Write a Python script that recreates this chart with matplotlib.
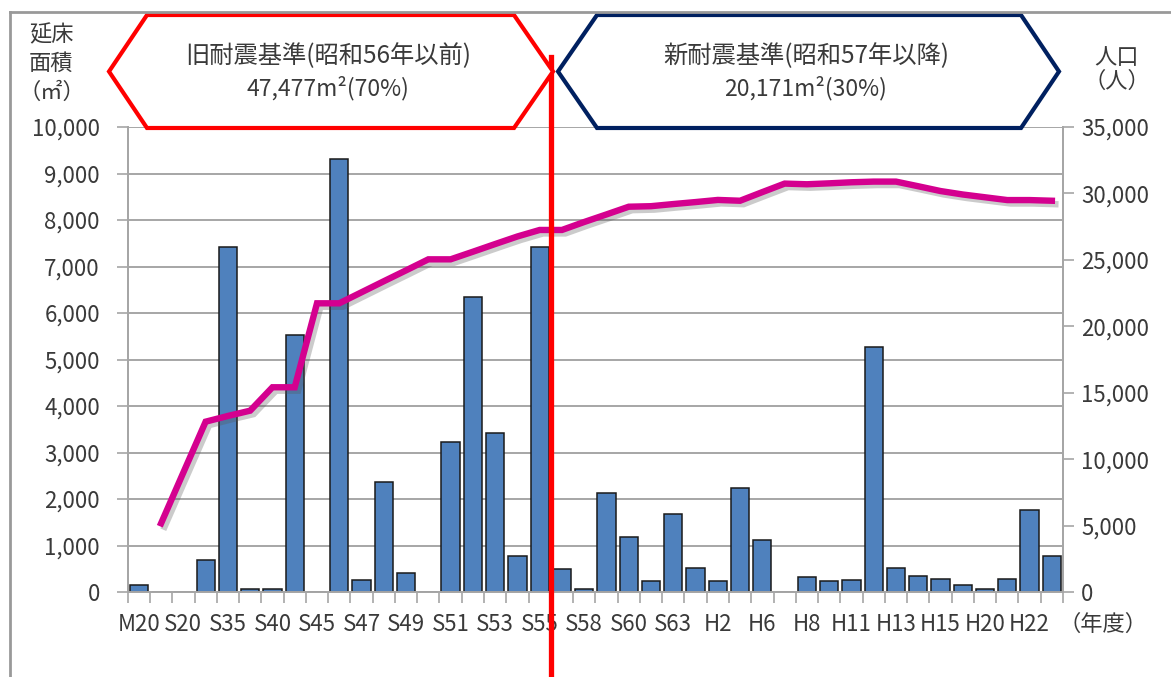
import matplotlib
matplotlib.use("Agg")
import matplotlib.pyplot as plt
import matplotlib.patheffects as pe
from matplotlib.patches import Polygon
from matplotlib.lines import Line2D
import numpy as np

plt.rcParams['font.family'] = ['Noto Sans CJK JP', 'DejaVu Sans']

# ---- data ----
tick_labels = ["M20", "", "S20", "", "S35", "", "S40", "", "S45", "", "S47", "", "S49", "",
               "S51", "", "S53", "", "S55", "", "S58", "", "S60", "", "S63", "", "H2", "",
               "H6", "", "H8", "", "H11", "", "H13", "", "H15", "", "H20", "", "H22", ""]
floor_area = [150, 0, 0, 690, 7425, 60, 60, 5527, 0, 9317, 258, 2372, 409, 0,
              3226, 6350, 3426, 781, 7426, 495, 58, 2122, 1190, 230, 1670, 516, 230, 2243,
              1118, 0, 316, 230, 258, 5275, 516, 344, 280, 150, 58, 280, 1757, 781]
population = [None, 5170, None, 12820, 13250, 13650, 15410, 15410, 21730, 21730, 22560, 23390,
              24210, 25040, 25040, 25610, 26190, 26760, 27250, 27250, 27850, 28420, 29000, 29040,
              29200, 29350, 29510, 29450, 30100, 30740, 30690, 30760, 30840, 30890, 30890, 30540,
              30180, 29920, 29710, 29500, 29500, 29450]
old_title = "旧耐震基準(昭和56年以前)"
old_sub = "47,477m²(70%)"
new_title = "新耐震基準(昭和57年以降)"
new_sub = "20,171m²(30%)"
divider_pos = 18.5

W, H = 1171, 677
fig = plt.figure(figsize=(W / 100, H / 100), dpi=100)
ax = fig.add_axes([127.7 / W, 1 - 592 / H, (1063 - 127.7) / W, (592 - 127) / H])
ax2 = ax.twinx()

txt = '#3a3a3a'
grid_c = '#a6a6a6'
fs = 16

x = np.arange(len(floor_area))
ax.bar(x, floor_area, width=0.82, color='#4f81bd', edgecolor='#1a1a1a', linewidth=1.1, zorder=3)
ax.set_xlim(-0.5, len(floor_area) - 0.5)
ax.set_ylim(0, 10000)
ax.set_yticks(np.arange(0, 10001, 1000))
ax.set_yticklabels([f"{v:,}" for v in range(0, 10001, 1000)])
ax.yaxis.grid(True, color=grid_c, linewidth=1.4, zorder=0)
ax.set_axisbelow(True)
ax.set_xticks(x)
ax.set_xticklabels(tick_labels)
ax.set_xticks(np.arange(-0.5, len(floor_area), 1), minor=True)
ax.tick_params(axis='x', which='major', length=0, pad=15, labelsize=fs, labelcolor=txt)
ax.tick_params(axis='x', which='minor', length=8, width=1.2, color=grid_c)
ax.tick_params(axis='y', length=8, width=1.2, color=grid_c, labelsize=fs, labelcolor=txt, pad=12)

px = [i for i, v in enumerate(population) if v is not None]
pv = [v for v in population if v is not None]
ax2.plot(px, pv, color='#d4008f', linewidth=4.6, solid_joinstyle='miter', zorder=5,
         path_effects=[pe.SimpleLineShadow(offset=(2.5, -2.5), shadow_color='#555555', alpha=0.3),
                       pe.Normal()])
ax2.set_ylim(0, 35000)
ax2.set_yticks(np.arange(0, 35001, 5000))
ax2.set_yticklabels([f"{v:,}" for v in range(0, 35001, 5000)])
ax2.tick_params(axis='y', length=8, width=1.2, color=grid_c, labelsize=fs, labelcolor=txt, pad=5)

for a in (ax, ax2):
    a.spines['top'].set_visible(False)
    for s in ('left', 'right', 'bottom'):
        a.spines[s].set_color(grid_c)
        a.spines[s].set_linewidth(1.4)

# red divider line
ax2.axvline(divider_pos, ymin=-0.19, ymax=(592 - 57) / 465, color='#ff0000', linewidth=3.8,
            clip_on=False, zorder=10)

# header hexagons
def fx(px_):
    return px_ / W

def fy(py_):
    return 1 - py_ / H

red_pts = [(109, 71.5), (147, 15), (514, 15), (553, 71.5), (514, 128), (147, 128)]
blue_pts = [(558, 71.5), (597, 15), (1021, 15), (1059, 71.5), (1021, 128), (597, 128)]
fig.patches.append(Polygon([(fx(a), fy(b)) for a, b in red_pts], closed=True, fill=True,
                           facecolor='white', edgecolor='#ff0000', linewidth=3,
                           transform=fig.transFigure, zorder=1))
fig.patches.append(Polygon([(fx(a), fy(b)) for a, b in blue_pts], closed=True, fill=True,
                           facecolor='white', edgecolor='#002060', linewidth=3,
                           transform=fig.transFigure, zorder=1))

fig.text(fx(328), fy(56), old_title, ha='center', va='center', fontsize=17.5, color=txt)
fig.text(fx(328), fy(88), old_sub, ha='center', va='center', fontsize=16.5, color=txt)
fig.text(fx(806), fy(56), new_title, ha='center', va='center', fontsize=17.5, color=txt)
fig.text(fx(806), fy(88), new_sub, ha='center', va='center', fontsize=16.5, color=txt)

# axis titles
fig.text(fx(51), fy(35), "延床", ha='center', va='center', fontsize=16, color=txt)
fig.text(fx(51), fy(63), "面積", ha='center', va='center', fontsize=16, color=txt)
fig.text(fx(52), fy(92), "（㎡）", ha='center', va='center', fontsize=16, color=txt)
fig.text(fx(1117), fy(57), "人口", ha='center', va='center', fontsize=16, color=txt)
fig.text(fx(1117), fy(81), "（人）", ha='center', va='center', fontsize=16, color=txt)
fig.text(fx(1103), fy(624), "（年度）", ha='center', va='center', fontsize=16, color=txt)

# outer frame
fig.lines.append(Line2D([fx(10), fx(10)], [fy(12), 0], transform=fig.transFigure,
                        color='#999999', linewidth=2))
fig.lines.append(Line2D([fx(10), 1], [fy(12), fy(12)], transform=fig.transFigure,
                        color='#999999', linewidth=2))

fig.savefig("out.png", dpi=100, facecolor='white')
